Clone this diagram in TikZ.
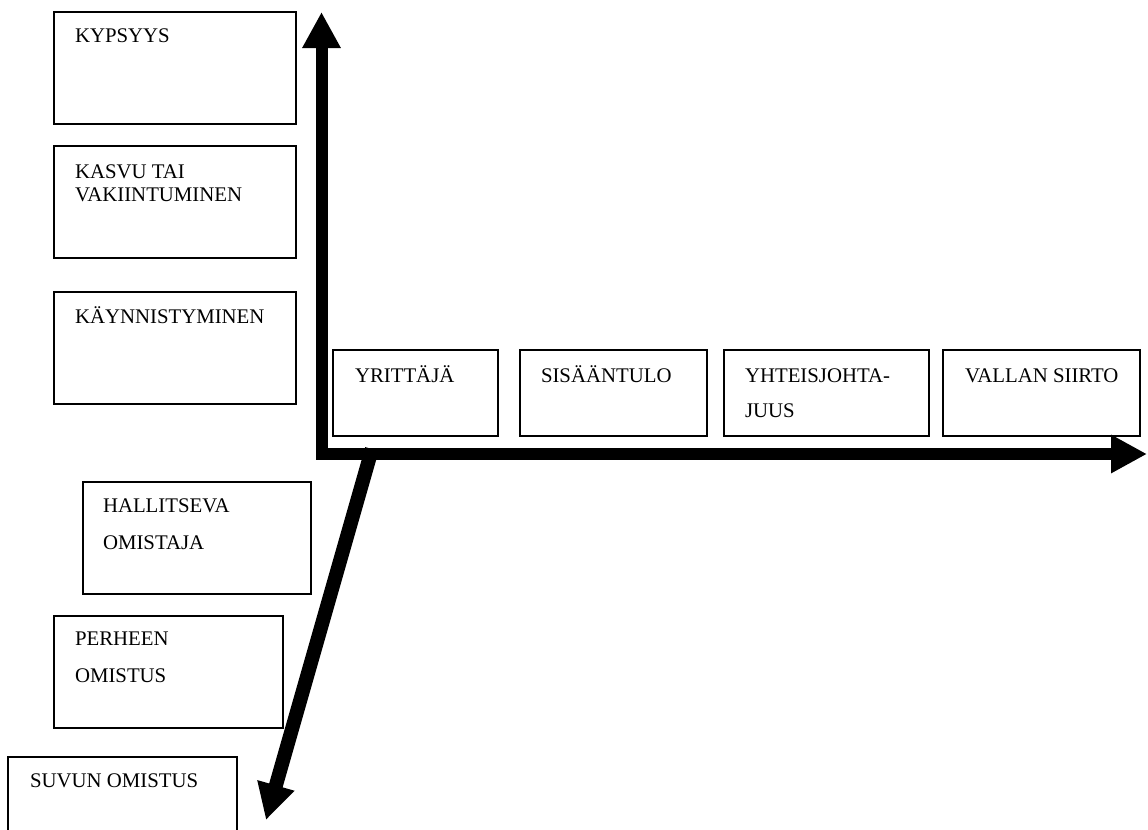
\documentclass[tikz,border=0pt]{standalone}
\usepackage{fontspec}
\setmainfont{Liberation Serif}
\usetikzlibrary{arrows.meta}

% label font: size fixed, line distance given per label
\newcommand\lblfont[1]{\fontsize{15.6}{#1}\selectfont}

% stage box: name, left, top, right, bottom (drawing units, y grows downward)
\newcommand\stagebox[5]{%
  \node[stagerect, anchor=north west,
        minimum width={(#4-#2)*0.75pt}, minimum height={(#5-#3)*0.75pt}]
        (#1) at (#2,#3) {};}

\begin{document}
\begin{tikzpicture}[x=0.75pt, y=-0.75pt,
  stagerect/.style={draw=black, line width=1.5pt, inner sep=0pt, outer sep=0pt, fill=white},
  % labels are placed by the baseline of their last line
  lbl/.style={anchor=base west, inner sep=0pt, outer sep=0pt, align=left, font=\lblfont{18}},
  axis/.style={line width=9pt, line join=miter, line cap=butt},
  bigtip/.tip={Triangle[length=27pt, width=27pt]},
  diagaxis/.style={line width=10.5pt, line cap=butt, -{Triangle[length=27pt, width=27pt]}}]

\clip (0,0) rectangle (1148,829);
\fill[white] (0,0) rectangle (1148,829);

% axis end points
\coordinate (origin) at (321.5,454);
\coordinate (ytip)   at (321.5,12);
\coordinate (xtip)   at (1147,454);
\coordinate (dstart) at (372,449);
\coordinate (dtip)   at (266,820);

% life-cycle stages (vertical axis)
\stagebox{kyp}{54}{12}{296}{124}
\stagebox{kas}{54}{146}{296}{258}
\stagebox{kay}{54}{292}{296}{404}
\node[lbl] (kyp-t) at (75,42)  {KYPSYYS};
\node[lbl, font=\lblfont{17.25}] (kas-t) at (75,201) {KASVU TAI\\VAKIINTUMINEN};
\node[lbl] (kay-t) at (75,323) {KÄYNNISTYMINEN};

% management stages (horizontal axis)
\stagebox{yri}{333}{350}{498}{436}
\stagebox{sis}{520}{350}{707}{436}
\stagebox{yht}{724}{350}{929}{436}
\stagebox{val}{943}{350}{1140}{436}
\node[lbl] (yri-t) at (355,382) {YRITTÄJÄ};
\node[lbl] (sis-t) at (541,382) {SISÄÄNTULO};
\node[lbl, font=\lblfont{26.25}] (yht-t) at (745,417) {YHTEISJOHTA-\\JUUS};
\node[lbl] (val-t) at (965,382) {VALLAN SIIRTO};

% ownership stages (diagonal axis)
\stagebox{hal}{83}{482}{311}{594}
\stagebox{per}{54}{616}{283}{728}
\stagebox{suv}{8}{757}{237}{869}
\node[lbl, font=\lblfont{27.75}] (hal-t) at (103,549) {HALLITSEVA\\OMISTAJA};
\node[lbl, font=\lblfont{27.75}] (per-t) at (75,682) {PERHEEN\\OMISTUS};
\node[lbl] (suv-t) at (30,787) {SUVUN OMISTUS};

% axes
\draw[axis, bigtip-bigtip] (ytip) -- (origin) -- (xtip);
\draw[diagaxis] (dstart) -- (dtip);

\end{tikzpicture}
\end{document}
